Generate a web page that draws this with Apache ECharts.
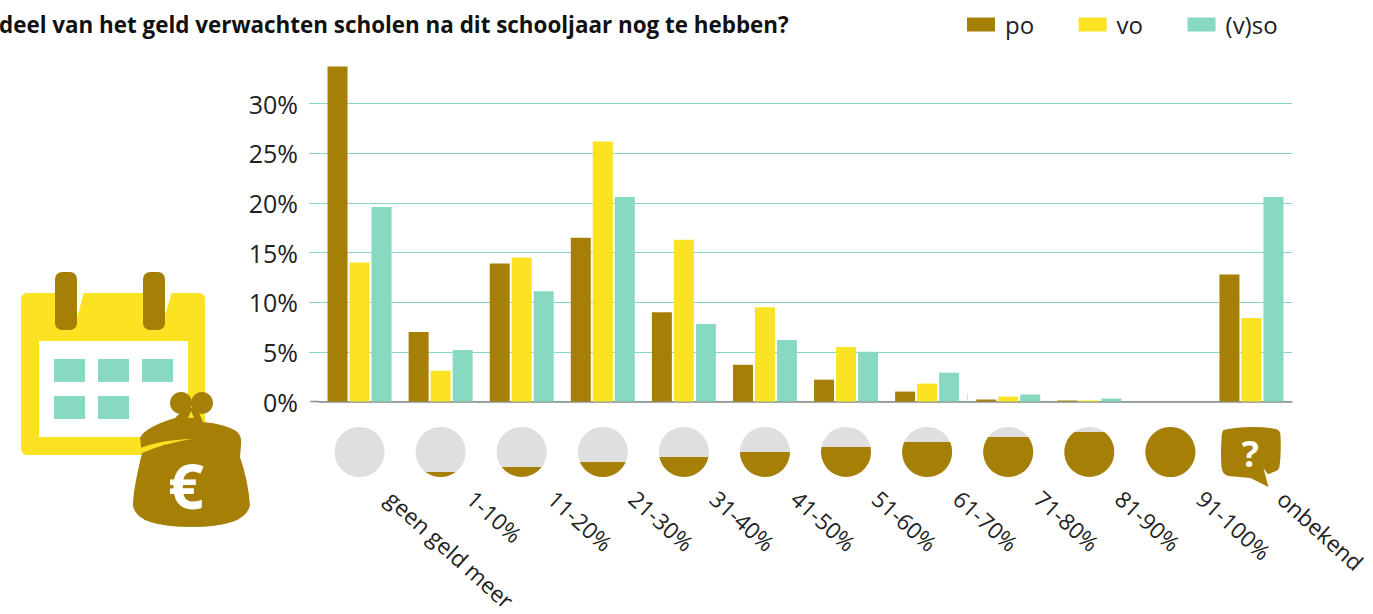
<!DOCTYPE html>
<html>
<head>
<meta charset="utf-8">
<style>
html, body { margin: 0; padding: 0; background: #fff; }
#chart { width: 1373px; height: 614px; }
/* the rotated category labels use old style figures in the original, the y axis does not */
#chart svg text[transform*="6691"], #chart svg text[transform*="7431"] { font-variant-numeric: oldstyle-nums !important; font-feature-settings: "onum" 1 !important; }
</style>
<script src="https://cdn.jsdelivr.net/npm/echarts@6/dist/echarts.min.js"></script>
</head>
<body>
<div id="chart"></div>
<script>
var categories = ['geen geld meer', '1-10%', '11-20%', '21-30%', '31-40%', '41-50%', '51-60%', '61-70%', '71-80%', '81-90%', '91-100%', 'onbekend'];
var po = [33.75, 7.0, 13.9, 16.5, 9.0, 3.7, 2.2, 1.0, 0.2, 0.1, 0, 12.8];
var vo = [14.0, 3.1, 14.5, 26.2, 16.3, 9.5, 5.5, 1.8, 0.5, 0.1, 0, 8.4];
var vso = [19.6, 5.2, 11.1, 20.6, 7.8, 6.2, 5.0, 2.9, 0.7, 0.3, 0, 20.6];
// how full each little circle is, null = question mark
var fill = [0, 0.1, 0.2, 0.3, 0.4, 0.5, 0.6, 0.7, 0.8, 0.9, 1, null];

var BROWN = '#a68006';
var YELLOW = '#fbe324';
var TEAL = '#87d9c2';
var FONT = '"Open Sans", "Noto Sans", sans-serif';

function renderCircle(params, api) {
	var x = api.coord([api.value(0), 0])[0];
	var cy = 452;
	var r = 25;
	var f = fill[api.value(0)];
	if (f === null) {
		return {
			type: 'group',
			x: x,
			y: cy,
			children: [
				{ type: 'path', shape: { pathData: 'M-28,-22 Q-15,-25 0,-25 Q15,-25 24,-23 Q29,-22 29,-17 Q30,0 28,15 Q27,19 22,20 Q18,22 16,22 L12,16 L17,35 L-1,26 L-23,24 Q-29,23 -30,15 Q-31,0 -30,-12 Q-30,-20 -28,-22 Z' }, style: { fill: BROWN } },
				{ type: 'text', style: { x: -1, y: 1, text: '?', fill: '#fff', font: 'bold 36px ' + FONT, align: 'center', verticalAlign: 'middle' } }
			]
		};
	}
	var children = [{ type: 'circle', shape: { cx: 0, cy: 0, r: r }, style: { fill: '#dfdfdf' } }];
	if (f >= 1) {
		children.push({ type: 'circle', shape: { cx: 0, cy: 0, r: r }, style: { fill: BROWN } });
	} else if (f > 0) {
		var top = r - f * 2 * r;
		var half = Math.sqrt(r * r - top * top);
		var large = f > 0.5 ? 1 : 0;
		children.push({
			type: 'path',
			shape: { pathData: 'M' + (-half) + ',' + top + ' A' + r + ',' + r + ' 0 ' + large + ' 0 ' + half + ',' + top + ' Z' },
			style: { fill: BROWN }
		});
	}
	return { type: 'group', x: x, y: cy, children: children };
}

// calendar and purse, page coordinates
function renderIcon() {
	return { type: 'group', children: [
		{ type: 'rect', shape: { x: 21, y: 293, width: 184, height: 162, r: 6 }, style: { fill: YELLOW } },
		{ type: 'polygon', shape: { points: [[77, 292], [84, 292], [77, 318]] }, style: { fill: '#fff' } },
		{ type: 'polygon', shape: { points: [[164, 292], [172, 292], [164, 318]] }, style: { fill: '#fff' } },
		{ type: 'rect', shape: { x: 39, y: 341, width: 149, height: 96 }, style: { fill: '#fff' } },
		{ type: 'rect', shape: { x: 54, y: 359, width: 31, height: 23 }, style: { fill: TEAL } },
		{ type: 'rect', shape: { x: 98, y: 359, width: 31, height: 23 }, style: { fill: TEAL } },
		{ type: 'rect', shape: { x: 142, y: 359, width: 31, height: 23 }, style: { fill: TEAL } },
		{ type: 'rect', shape: { x: 54, y: 396, width: 31, height: 23 }, style: { fill: TEAL } },
		{ type: 'rect', shape: { x: 98, y: 396, width: 31, height: 23 }, style: { fill: TEAL } },
		{ type: 'rect', shape: { x: 55, y: 272, width: 22, height: 58, r: 7 }, style: { fill: BROWN } },
		{ type: 'rect', shape: { x: 143, y: 272, width: 22, height: 58, r: 7 }, style: { fill: BROWN } },
		{ type: 'circle', shape: { cx: 181, cy: 403, r: 11 }, style: { fill: BROWN } },
		{ type: 'circle', shape: { cx: 202, cy: 403, r: 11 }, style: { fill: BROWN } },
		{ type: 'path', shape: { pathData: 'M185,408 L197,408 L203,422 Q225,424 236,431 Q242,435 241,445 L240,457 Q248,480 250,505 Q246,527 192,527 Q135,527 133,505 Q133,490 142,453 L140,438 Q145,427 175,418 Z' }, style: { fill: BROWN } },
		{ type: 'polygon', shape: { points: [[191, 411], [188, 418], [194, 418]] }, style: { fill: YELLOW } },
		{ type: 'path', shape: { pathData: 'M141,448 Q160,440 192,439 Q165,443 142,453 Z' }, style: { fill: YELLOW } },
		{ type: 'text', style: { x: 186, y: 484, text: '€', fill: '#fff', font: 'bold 63px ' + FONT, align: 'center', verticalAlign: 'middle' } }
	] };
}

var chart = echarts.init(document.getElementById('chart'), null, { renderer: 'svg' });
chart.setOption({
	animation: false,
	color: [BROWN, YELLOW, TEAL],
	title: {
		text: 'deel van het geld verwachten scholen na dit schooljaar nog te hebben?',
		left: -1,
		top: 13,
		padding: 0,
		textStyle: { fontFamily: FONT, fontSize: 22.4, fontWeight: 'bold', color: '#111' }
	},
	legend: {
		left: 967,
		top: 12.5,
		padding: 0,
		icon: 'rect',
		itemWidth: 28,
		itemHeight: 14,
		itemGap: 44.5,
		selectedMode: false,
		data: ['po', 'vo', '(v)so'],
		textStyle: { fontFamily: FONT, fontSize: 24, color: '#222', padding: [0, 0, 0, 5] }
	},
	grid: { left: 319, right: 81, top: 64, bottom: 212.5, outerBoundsMode: 'none' },
	xAxis: {
		type: 'category',
		data: categories,
		axisLine: { lineStyle: { color: '#8a8a8a', width: 1.5 } },
		axisTick: { show: false },
		axisLabel: {
			interval: 0,
			rotate: -42,
			align: 'left',
			verticalAlign: 'middle',
			margin: 67,
			padding: [0, 0, 0, 40],
			fontFamily: FONT,
			fontSize: 22.5,
			color: '#222'
		}
	},
	yAxis: {
		type: 'value',
		min: 0,
		max: 34,
		interval: 5,
		axisLine: { show: false },
		axisTick: { show: true, length: 10, lineStyle: { color: TEAL } },
		axisLabel: {
			showMaxLabel: false,
			margin: 21,
			formatter: '{value}%',
			fontFamily: FONT,
			fontSize: 25,
			color: '#222'
		},
		splitLine: { showMaxLine: false, lineStyle: { color: TEAL } }
	},
	series: [
		{ name: 'po', type: 'bar', data: po, barWidth: 20, barGap: '10%' },
		{ name: 'vo', type: 'bar', data: vo, barWidth: 20 },
		{ name: '(v)so', type: 'bar', data: vso, barWidth: 20 },
		{
			name: 'fill',
			type: 'custom',
			data: fill.map(function (v, i) { return [i, 0]; }),
			encode: { x: 0, y: 1 },
			clip: false,
			silent: true,
			renderItem: renderCircle
		},
		{
			name: 'icon',
			type: 'custom',
			coordinateSystem: 'none',
			data: [[0]],
			silent: true,
			renderItem: renderIcon
		}
	],
	graphic: [
		// baseline runs on a bit left of the grid
		{ type: 'line', z: 10, silent: true, shape: { x1: 311, y1: 401.5, x2: 319, y2: 401.5 }, style: { stroke: '#8a8a8a', lineWidth: 1.5 } },
		// stray sliver in the original
		{ type: 'line', z: 10, silent: true, shape: { x1: 967.5, y1: 394, x2: 967.5, y2: 401 }, style: { stroke: '#c3ece0', lineWidth: 1 } }
	]
});
</script>
</body>
</html>
